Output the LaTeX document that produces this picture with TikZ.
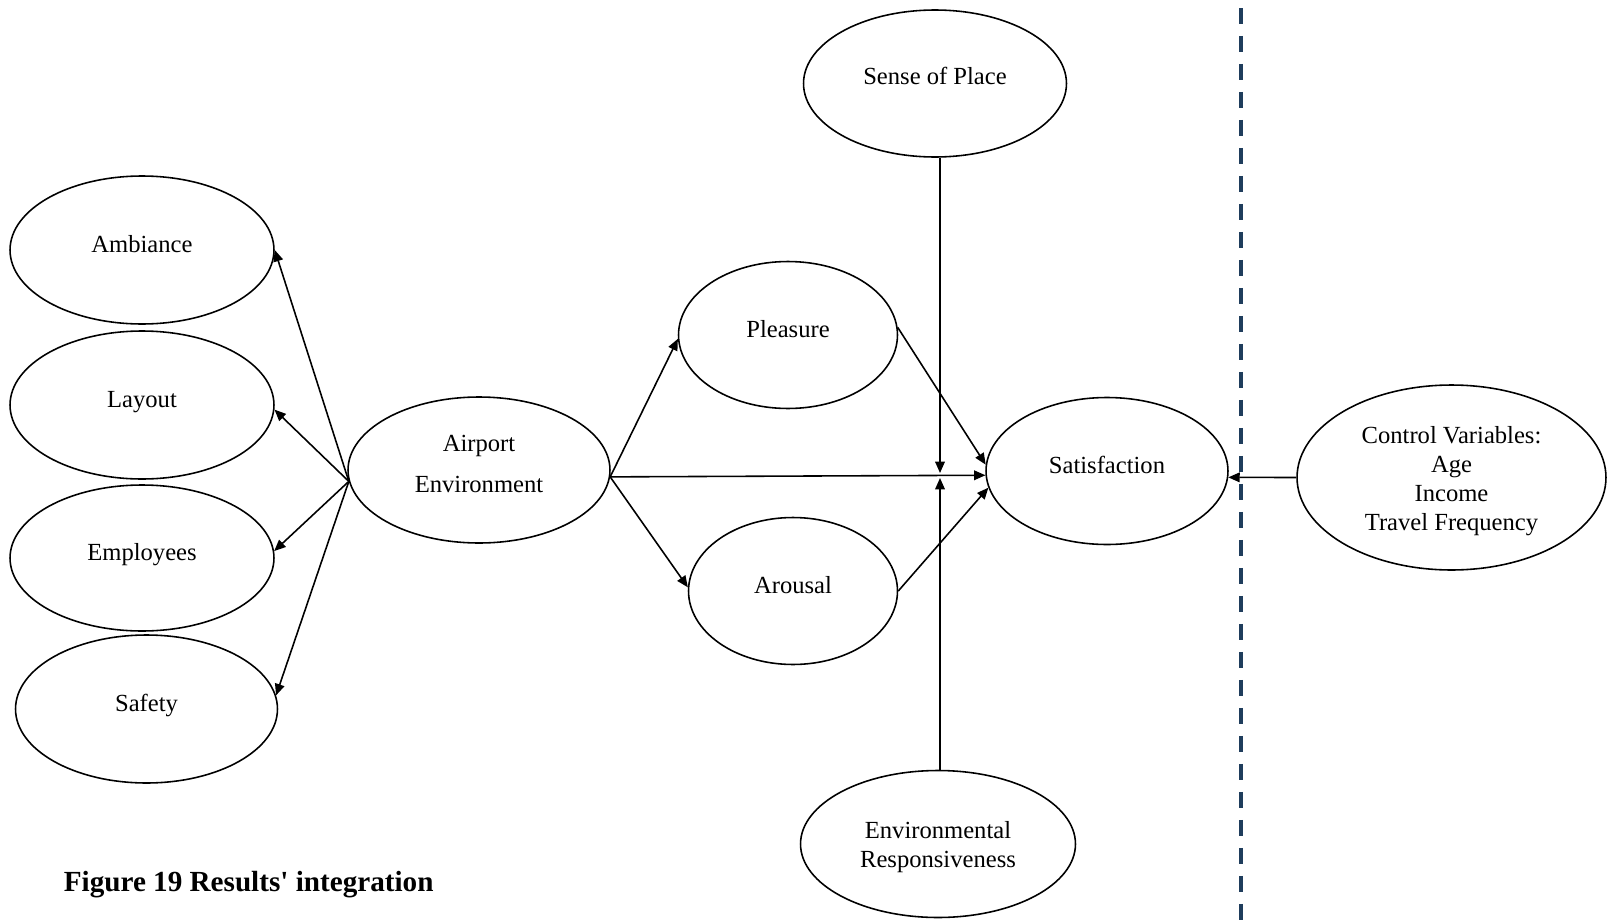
\documentclass[tikz,border=0pt]{standalone}
\usepackage{fontspec}
\setmainfont{Liberation Serif}
\usetikzlibrary{shapes.geometric,arrows.meta}
\definecolor{divider}{RGB}{31,61,92}
\begin{document}
\begin{tikzpicture}[x=0.02cm,y=-0.02cm,
  ell/.style={draw, ellipse, line width=0.9pt, inner sep=0pt},
  lbl/.style={font=\fontsize{14pt}{16.5pt}\selectfont, align=center, inner sep=0pt},
  one/.style={lbl, text height=10pt, text depth=3pt},
  arr/.style={line width=0.9pt, -{Triangle[length=6.5pt,width=5.5pt]}},
  dashline/.style={draw=divider, line width=2.2pt, dash pattern=on 0.32cm off 0.24cm},
]
\useasboundingbox (0,0) rectangle (1607,923);

% constructs
\node[ell, minimum width=5.28cm, minimum height=2.96cm] (amb) at (142,250) {};
\node[ell, minimum width=5.28cm, minimum height=2.96cm] (lay) at (142,405) {};
\node[ell, minimum width=5.28cm, minimum height=2.92cm] (emp) at (142,558) {};
\node[ell, minimum width=5.24cm, minimum height=2.96cm] (saf) at (146.5,709) {};
\node[ell, minimum width=5.24cm, minimum height=2.92cm] (ae)  at (479,470) {};
\node[ell, minimum width=4.38cm, minimum height=2.94cm] (ple) at (788,335) {};
\node[ell, minimum width=4.18cm, minimum height=2.94cm] (aro) at (793,591) {};
\node[ell, minimum width=5.26cm, minimum height=2.94cm] (sop) at (935,83.5) {};
\node[ell, minimum width=5.50cm, minimum height=2.94cm] (env) at (938,844) {};
\node[ell, minimum width=4.84cm, minimum height=2.94cm] (sat) at (1107,471) {};
\node[ell, minimum width=6.18cm, minimum height=3.70cm] (ctl) at (1451.5,477.5) {};

% labels
\node[one] (amb-t) at ([yshift=2pt]amb.center) {Ambiance};
\node[one] (lay-t) at ([yshift=2pt]lay.center) {Layout};
\node[one] (emp-t) at ([yshift=2pt]emp.center) {Employees};
\node[one] (saf-t) at ([yshift=2pt]saf.center) {Safety};
\node[lbl] (ae-t)  at ([yshift=3.5pt]ae.center) {Airport\\[6.5pt]Environment};
\node[one] (ple-t) at ([yshift=2pt]ple.center) {Pleasure};
\node[one] (aro-t) at ([yshift=2pt]aro.center) {Arousal};
\node[one] (sop-t) at ([yshift=3pt]sop.center) {Sense of Place};
\node[lbl] (env-t) at ([yshift=-1.5pt]env.center) {Environmental\\Responsiveness};
\node[one] (sat-t) at ([yshift=2pt]sat.center) {Satisfaction};
\node[lbl] (ctl-t) at ([yshift=-1.8pt]ctl.center) {Control Variables:\\Age\\Income\\Travel Frequency};

% environment dimensions
\draw[arr] (ae.185) -- (amb.east);
\draw[arr] (ae.185) -- (lay.358);
\draw[arr] (ae.185) -- (emp.3);
\draw[arr] (ae.185) -- (saf.6);

% mediation paths
\draw[arr] (ae.357) -- (ple.182);
\draw[arr] (ae.357) -- (aro.178);
\draw[arr] (ae.357) -- (sat.182);
\draw[arr] (ple.4) -- (sat.177);
\draw[arr] (aro.east) -- (sat.188);

% moderators
\coordinate (spTip) at (940,473);
\coordinate (erTip) at (940,478);
\draw[arr] (sop.south -| spTip) -- (spTip);
\draw[arr] (env.north -| erTip) -- (erTip);

% controls
\draw[arr] (ctl.west) -- (sat.357);

% divider
\coordinate (divTop) at (1241,8);
\coordinate (divBot) at (1241,921);
\draw[dashline] (divTop) -- (divBot);

% caption
\node[anchor=west, inner sep=0pt, font=\fontsize{16.6pt}{19pt}\selectfont\bfseries] (cap) at (63.5,884.5) {Figure 19 Results\textquotesingle{} integration};
\end{tikzpicture}
\end{document}
